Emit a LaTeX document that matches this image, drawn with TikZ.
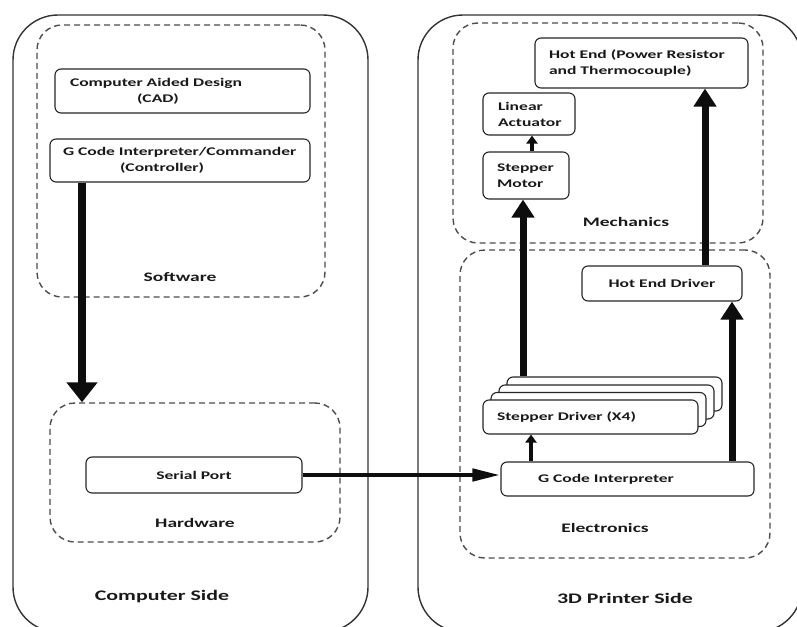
\documentclass[tikz,border=0pt]{standalone}
\usepackage{fontspec}
\newfontfamily\cfont{Carlito}[FakeStretch=1.5]
\usetikzlibrary{arrows.meta}
\begin{document}
\begin{tikzpicture}[x=1pt,y=-1pt,
  outer/.style={draw=black!80, line width=1.4pt, rounded corners=45pt, inner sep=0pt},
  group/.style={draw=black!70, line width=1.4pt, dash pattern=on 6pt off 4pt, rounded corners=25pt, inner sep=0pt},
  box/.style={draw=black!85, fill=white, line width=1.1pt, rounded corners=6pt, inner ysep=0pt,
    font=\cfont\bfseries\fontsize{11.7}{16}\selectfont, text=black!90},
  lbl/.style={font=\cfont\bfseries\fontsize{13}{15}\selectfont, text=black!90},
  side/.style={font=\cfont\bfseries\fontsize{14.6}{17}\selectfont, text=black!90},
  bigarrow/.style={draw=black!95, line width=7.5pt, -{Triangle[width=30pt,length=20pt]}},
  midarrow/.style={draw=black!95, line width=7pt, -{Triangle[width=22pt,length=18pt]}},
  smallarrow/.style={draw=black!95, line width=4.5pt, -{Triangle[width=11pt,length=8pt]}},
  serarrow/.style={draw=black!95, line width=4.5pt, -{Triangle[width=12pt,length=28pt]}}
]
\clip (0,0) rectangle (797,626);
% outer sides
\node[outer, minimum width=355pt, minimum height=617pt] (comp) at (190.5,323.5) {};
\node[outer, minimum width=384pt, minimum height=617pt] (prn) at (610,323.5) {};
% groups
\node[group, minimum width=288pt, minimum height=272pt] (sw) at (181,161) {};
\node[group, minimum width=290pt, minimum height=139pt] (hw) at (195,472.5) {};
\node[group, minimum width=310pt, minimum height=220pt] (mech) at (608,133) {};
\node[group, minimum width=310pt, minimum height=308pt] (elec) at (615,404) {};
% labels
\node[lbl] (swl) at (180,277) {Software};
\node[lbl] (hwl) at (195,523) {Hardware};
\node[lbl] (mechl) at (626,222) {Mechanics};
\node[lbl] (elecl) at (605,528) {Electronics};
\node[side] (compl) at (162,597) {Computer Side};
\node[side] (prnl) at (625,598) {3D Printer Side};
% software boxes
\node[box, inner xsep=15pt, text width=225pt, align=left, minimum height=44pt] (cad) at (182.5,91)
  {Computer Aided Design\\\hspace*{67pt}(CAD)};
\node[box, inner xsep=13pt, text width=234pt, align=left, minimum height=43pt] (cmd) at (180,160.5)
  {G Code Interpreter/Commander\\\hspace*{57pt}(Controller)};
% hardware
\node[box, minimum width=216pt, minimum height=36pt] (serial) at (194,475) {Serial Port};
% mechanics
\node[box, inner xsep=14pt, text width=185pt, align=left, minimum height=50pt] (hotend) at (641.5,63)
  {Hot End (Power Resistor\\and Thermocouple)};
\node[box, inner xsep=15pt, text width=62pt, align=left, minimum height=42pt] (linact) at (529,114)
  {Linear\\Actuator};
\node[box, inner xsep=14pt, text width=58pt, align=left, minimum height=47pt] (stepmot) at (526,175.5)
  {Stepper\\Motor};
% electronics
\node[box, minimum width=160pt, minimum height=35pt] (hedrv) at (662,283.5) {Hot End Driver};
\node[box, minimum width=215pt, minimum height=34pt] (sd3) at (614.5,394) {};
\node[box, minimum width=215pt, minimum height=34pt] (sd2) at (606.5,402) {};
\node[box, minimum width=215pt, minimum height=34pt] (sd1) at (598.5,409.5) {};
\node[box, inner xsep=14pt, text width=187pt, align=left, minimum height=34pt] (sd) at (590.5,417)
  {Stepper Driver (X4)};
\node[box, inner xsep=37pt, text width=179pt, align=left, minimum height=34pt] (gci) at (627.5,479)
  {G Code Interpreter};
% x positions for connectors
\coordinate (xa) at (82,0);
\coordinate (xb) at (523,0);
\coordinate (xc) at (532,0);
\coordinate (xd) at (531,0);
\coordinate (xe) at (732,0);
\coordinate (xf) at (705,0);
% connectors
\draw[bigarrow] (cmd.south -| xa) -- (hw.north -| xa);
\draw[serarrow] (serial.east) -- (serial.east -| gci.west);
\draw[smallarrow] (gci.north -| xd) -- (sd.south -| xd);
\draw[midarrow] (gci.north -| xe) -- (hedrv.south -| xe);
\draw[midarrow] (sd3.north -| xb) -- (stepmot.south -| xb);
\draw[smallarrow] (stepmot.north -| xc) -- (linact.south -| xc);
\draw[midarrow] (hedrv.north -| xf) -- (hotend.south -| xf);
\end{tikzpicture}
\end{document}
